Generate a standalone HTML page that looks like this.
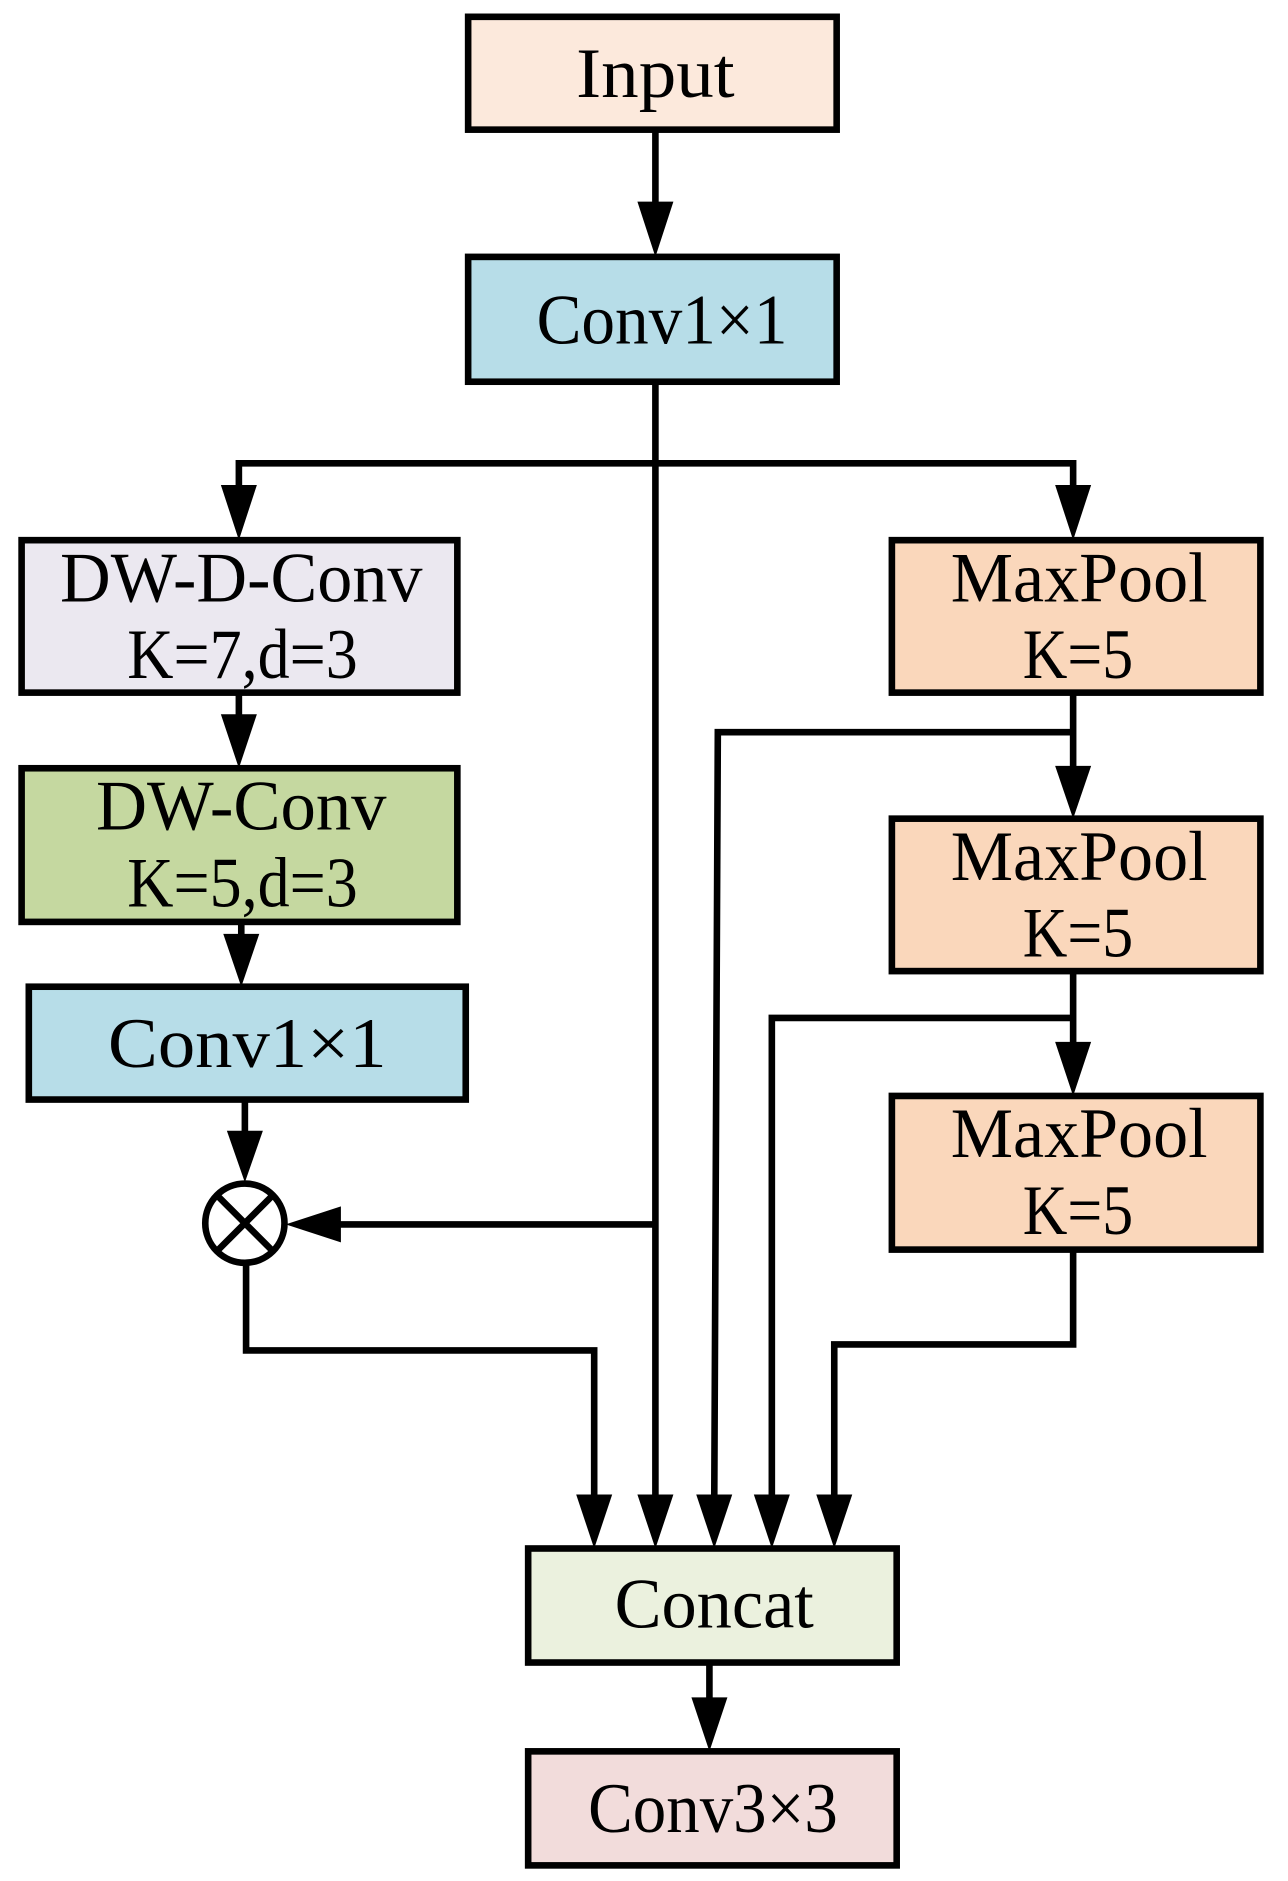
<!DOCTYPE html>
<html><head><style>html,body{margin:0;padding:0;background:#fff}svg{display:block}</style></head>
<body>
<svg width="1288" height="1881" viewBox="0 0 1073 1567" xmlns="http://www.w3.org/2000/svg">
<g stroke="#000" stroke-width="5.5" fill="none">
<line x1="546" y1="108" x2="546" y2="180"/>
<line x1="546" y1="318" x2="546" y2="1256"/>
<polyline points="199,416 199,386 894,386 894,416"/>
<line x1="199" y1="577" x2="199" y2="608"/>
<line x1="201" y1="768" x2="201" y2="792"/>
<line x1="204" y1="916" x2="204" y2="952"/>
<line x1="546" y1="1020" x2="275" y2="1020"/>
<polyline points="205,1054 205,1125 495,1125 495,1256"/>
<line x1="894" y1="577" x2="894" y2="650"/>
<polyline points="894,610 598,610 595,1256"/>
<line x1="894" y1="809" x2="894" y2="880"/>
<polyline points="894,848 643,848 643,1256"/>
<polyline points="894,1041 894,1120 695,1120 695,1256"/>
<line x1="591" y1="1385" x2="591" y2="1426"/>
</g>
<g fill="#000">
<polygon points="531,168 561,168 546,214"/>
<polygon points="184,404 214,404 199,450"/>
<polygon points="879,404 909,404 894,450"/>
<polygon points="184,595 214,595 199,640"/>
<polygon points="186,778 216,778 201,822"/>
<polygon points="189,942 219,942 204,985"/>
<polygon points="284,1005 284,1035 238,1020"/>
<polygon points="879,638 909,638 894,682"/>
<polygon points="879,868 909,868 894,913"/>
<polygon points="480,1245 510,1245 495,1290"/>
<polygon points="531,1245 561,1245 546,1290"/>
<polygon points="580,1245 610,1245 595,1290"/>
<polygon points="628,1245 658,1245 643,1290"/>
<polygon points="680,1245 710,1245 695,1290"/>
<polygon points="576,1414 606,1414 591,1459"/>
</g>
<g stroke="#000" stroke-width="5.5">
<rect x="390" y="14" width="307" height="94" fill="#fce9dc"/>
<rect x="390" y="214" width="307" height="104" fill="#b7dde8"/>
<rect x="18" y="450" width="363" height="127" fill="#ebe8f0"/>
<rect x="18" y="640" width="363" height="128" fill="#c5d8a0"/>
<rect x="24" y="822" width="364" height="94" fill="#b7dde8"/>
<rect x="743" y="450" width="307" height="127" fill="#fad7bb"/>
<rect x="743" y="682" width="307" height="127" fill="#fad7bb"/>
<rect x="743" y="913" width="307" height="128" fill="#fad7bb"/>
<rect x="440" y="1290" width="307" height="95" fill="#ebf1de"/>
<rect x="440" y="1459" width="307" height="95" fill="#f2dcdb"/>
<circle cx="204" cy="1019" r="33" fill="#fff"/>
<line x1="181" y1="996" x2="227" y2="1042"/>
<line x1="227" y1="996" x2="181" y2="1042"/>
</g>
<g font-family="Liberation Serif, serif" font-size="59" fill="#000">
<text x="480" y="81" textLength="132" lengthAdjust="spacingAndGlyphs">Input</text>
<text x="447" y="286" textLength="209" lengthAdjust="spacingAndGlyphs">Conv1×1</text>
<text x="50" y="501" textLength="302" lengthAdjust="spacingAndGlyphs">DW-D-Conv</text>
<text x="106" y="565" textLength="192" lengthAdjust="spacingAndGlyphs">K=7,d=3</text>
<text x="80" y="691" textLength="242" lengthAdjust="spacingAndGlyphs">DW-Conv</text>
<text x="106" y="755" textLength="192" lengthAdjust="spacingAndGlyphs">K=5,d=3</text>
<text x="90" y="889" textLength="232" lengthAdjust="spacingAndGlyphs">Conv1×1</text>
<text x="792" y="501" textLength="214" lengthAdjust="spacingAndGlyphs">MaxPool</text>
<text x="852" y="565" textLength="92" lengthAdjust="spacingAndGlyphs">K=5</text>
<text x="792" y="733" textLength="214" lengthAdjust="spacingAndGlyphs">MaxPool</text>
<text x="852" y="797" textLength="92" lengthAdjust="spacingAndGlyphs">K=5</text>
<text x="792" y="964" textLength="214" lengthAdjust="spacingAndGlyphs">MaxPool</text>
<text x="852" y="1028" textLength="92" lengthAdjust="spacingAndGlyphs">K=5</text>
<text x="512" y="1356" textLength="166" lengthAdjust="spacingAndGlyphs">Concat</text>
<text x="490" y="1526" textLength="208" lengthAdjust="spacingAndGlyphs">Conv3×3</text>
</g>
</svg>
</body></html>
